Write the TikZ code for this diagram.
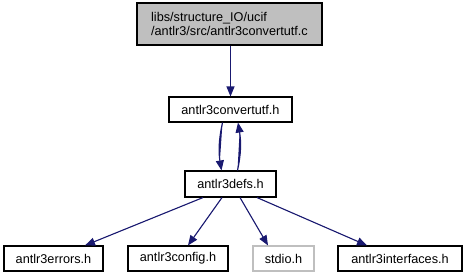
\documentclass[tikz,border=0pt]{standalone}
\usepackage{fontspec}
\setmainfont{Liberation Sans}
\usetikzlibrary{arrows.meta}
\definecolor{edgeblue}{HTML}{191970}
\definecolor{boxgray}{HTML}{BFBFBF}
\begin{document}
\begin{tikzpicture}[x=1pt,y=-1pt,
  box/.style={draw=black,line width=1.1pt,fill=white,inner sep=0pt,
    minimum height=25pt,font=\fontsize{12.7}{14}\selectfont},
  extbox/.style={box,draw=boxgray},
  mainbox/.style={box,fill=boxgray,align=left},
  dep/.style={draw=edgeblue,line width=1.1pt,
    -{Triangle[length=10pt,width=8pt]},fill=edgeblue}]
\useasboundingbox (0,0) rectangle (467,277);

\node[mainbox,minimum width=185pt,minimum height=42pt] (src) at (229.5,24)
  {libs/structure\_IO/ucif\\/antlr3/src/antlr3convertutf.c};
\node[box,minimum width=123pt] (conv) at (230.5,109.5) {antlr3convertutf.h};
\node[box,minimum width=91pt,minimum height=26pt] (defs) at (230.5,184) {antlr3defs.h};
\node[box,minimum width=99pt] (err) at (53.5,258.5) {antlr3errors.h};
\node[box,minimum width=100pt] (cfg) at (178,258.5) {antlr3config.h};
\node[extbox,minimum width=61pt] (stdio) at (283.5,258.5) {stdio.h};
\node[box,minimum width=124pt] (itf) at (400,258.5) {antlr3interfaces.h};

\draw[dep] (src.south -| conv.north) -- (conv.north);
\draw[dep] ([xshift=-8pt]conv.south) .. controls +(-4,18) and +(-3,-18) .. ([xshift=-9pt]defs.north);
\draw[dep] ([xshift=7pt]defs.north) .. controls +(4,-18) and +(3,18) .. ([xshift=7.5pt]conv.south);
\draw[dep] ([xshift=-27.5pt]defs.south) -- ([xshift=31.5pt]err.north);
\draw[dep] ([xshift=-8.5pt]defs.south) -- ([xshift=10pt]cfg.north);
\draw[dep] ([xshift=9.5pt]defs.south) -- ([xshift=-15.5pt]stdio.north);
\draw[dep] ([xshift=26.5pt]defs.south) -- ([xshift=-33pt]itf.north);
\end{tikzpicture}
\end{document}
